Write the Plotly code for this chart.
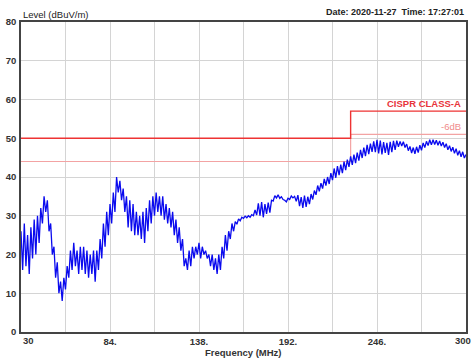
import plotly.graph_objects as go

# Frequency sampling grid (MHz), 1 MHz steps from 30 to 300
freq_mhz = list(range(30, 301))

level_dbuv = [
    26, 16, 28, 17, 25, 15, 27, 19, 29, 20,          # 30-39
    30, 23, 32, 28, 35, 31, 34, 26, 28, 20,          # 40-49
    22, 14, 18, 10, 13, 8, 14, 11, 17, 14,           # 50-59
    21, 16, 23, 17, 21, 15, 22, 16, 22, 15,          # 60-69
    21, 14, 20, 15, 21, 13, 21, 16, 24, 19,          # 70-79
    28, 22, 31, 25, 33, 28, 36, 31, 40, 36,          # 80-89
    39, 34, 37, 31, 35, 27, 34, 26, 33, 25,          # 90-99
    31, 25, 30, 24, 31, 23, 32, 26, 34, 28,          # 100-109
    35, 30, 36, 31, 35, 30, 35, 29, 33, 28,          # 110-119
    32, 27, 31, 25, 29, 23, 27, 21, 24, 17,          # 120-129
    19, 16, 21, 17, 22, 19, 22, 20, 23, 19,          # 130-139
    22, 20, 21, 19, 20, 17, 20, 16, 19, 15,          # 140-149
    20, 16, 22, 19, 25, 21, 26, 24, 28, 26,          # 150-159
    28.5, 27.8, 29.2, 28.7, 29.6, 29.3, 29.9, 29.5, 30.0, 29.6,   # 160-169
    30.3, 30.0, 31.5, 30.2, 33.2, 30.0, 33.5, 29.6, 33.0, 30.5,   # 170-179
    33.4, 30.8, 34.0, 33.8, 35.2, 34.6, 35.4, 34.5, 34.9, 34.2,   # 180-189
    34.0, 33.6, 34.5, 34.2, 35.1, 34.6, 35.0, 33.7, 35.3, 32.5,   # 190-199
    34.8, 32.0, 35.2, 32.3, 34.9, 33.0, 35.6, 34.2, 36.5, 35.4,   # 200-209
    37.8, 36.3, 38.4, 37.0, 39.5, 37.8, 40.0, 38.2, 41.0, 39.2,   # 210-219
    42.2, 39.8, 42.8, 40.5, 43.2, 41.0, 44.0, 41.8, 44.5, 42.6,   # 220-229
    45.3, 43.1, 45.8, 43.6, 46.3, 44.2, 47.0, 44.9, 47.6, 45.4,   # 230-239
    48.3, 45.9, 48.6, 46.5, 49.2, 46.4, 49.6, 46.1, 49.4, 45.8,   # 240-249
    49.0, 46.2, 48.8, 45.7, 49.1, 46.4, 49.3, 47.0, 49.4, 47.8,   # 250-259
    49.2, 48.0, 49.1, 47.6, 48.5, 46.8, 47.9, 46.2, 47.6, 46.0,   # 260-269
    47.8, 46.3, 48.2, 46.9, 48.8, 47.6, 49.2, 48.1, 49.6, 48.3,   # 270-279
    49.6, 48.4, 49.5, 48.2, 49.3, 48.0, 49.0, 47.6, 48.6, 47.0,   # 280-289
    48.1, 46.6, 47.7, 46.1, 47.3, 45.6, 46.8, 45.2, 46.5, 44.9,   # 290-299
    45.8,                                                         # 300
]

# CISPR Class-A limit and -6 dB margin line
limit_freq = [30, 230, 230, 300]
limit_class_a = [50, 50, 57, 57]
limit_minus6 = [44, 44, 51, 51]

x_tick_vals = [30, 57, 84, 111, 138, 165, 192, 219, 246, 273, 300]
x_tick_text = ["", "", "84.", "", "138.", "", "192.", "", "246.", "", ""]
x_end_labels = ["30", "300"]
y_tick_vals = [0, 10, 20, 30, 40, 50, 60, 70, 80]

FONT = "Liberation Sans"
TICKFONT = dict(family=FONT, size=9.5, color="#333333", weight="bold")

fig = go.Figure()
fig.add_trace(go.Scatter(x=limit_freq, y=limit_minus6, mode="lines",
                         line=dict(color="#f3a3a3", width=1.2), hoverinfo="skip"))
fig.add_trace(go.Scatter(x=limit_freq, y=limit_class_a, mode="lines",
                         line=dict(color="#ee3333", width=1.4), hoverinfo="skip"))
fig.add_trace(go.Scatter(x=freq_mhz, y=level_dbuv, mode="lines",
                         line=dict(color="#0a0aee", width=1.3)))

fig.update_layout(
    width=473, height=361,
    margin=dict(l=20.5, r=7, t=22, b=29),
    paper_bgcolor="white", plot_bgcolor="white",
    showlegend=False,
    font=dict(family=FONT, size=9.5, color="#333333"),
    xaxis=dict(range=[30, 300], tickvals=x_tick_vals, ticktext=x_tick_text,
               automargin=False,
               showgrid=True, gridcolor="#d4d4d4", gridwidth=1.3,
               showline=True, linecolor="#444444", linewidth=1.6, mirror=True,
               ticks="", zeroline=False, tickfont=TICKFONT),
    yaxis=dict(range=[0, 80], tickvals=y_tick_vals, automargin=False,
               showgrid=True, gridcolor="#d4d4d4", gridwidth=1.3,
               showline=True, linecolor="#444444", linewidth=1.6, mirror=True,
               ticks="", zeroline=False, ticklabelstandoff=1, tickfont=TICKFONT),
    annotations=[
        dict(text="Level (dBuV/m)", x=0, y=1, xref="paper", yref="paper",
             xanchor="left", yanchor="bottom", showarrow=False, xshift=0, yshift=0,
             font=dict(family=FONT, size=9.5, color="#222222")),
        dict(text="Date: 2020-11-27  Time: 17:27:01", x=1, y=1, xref="paper", yref="paper",
             xanchor="right", yanchor="bottom", showarrow=False, yshift=3,
             font=dict(family=FONT, size=9, color="#222222", weight="bold")),
        dict(text="Frequency (MHz)", x=0.5, y=0, xref="paper", yref="paper",
             xanchor="center", yanchor="top", showarrow=False, yshift=-13,
             font=dict(family=FONT, size=9.5, color="#333333", weight="bold")),
        dict(text=x_end_labels[0], x=0, y=0, xref="paper", yref="paper",
             xanchor="left", yanchor="top", showarrow=False, yshift=-1,
             font=TICKFONT),
        dict(text=x_end_labels[1], x=1, y=0, xref="paper", yref="paper",
             xanchor="right", yanchor="top", showarrow=False, yshift=-1, xshift=7,
             font=TICKFONT),
        dict(text="CISPR CLASS-A", x=298, y=57, xref="x", yref="y",
             xanchor="right", yanchor="bottom", showarrow=False, yshift=0,
             font=dict(family=FONT, size=9.5, color="#e8333a", weight="bold")),
        dict(text="-6dB", x=298, y=51, xref="x", yref="y",
             xanchor="right", yanchor="bottom", showarrow=False, yshift=0,
             font=dict(family=FONT, size=9.5, color="#f08a8a")),
    ],
)

fig.write_html("out.html", config={"displayModeBar": False},
               post_script="document.body.style.margin='0';document.body.style.overflow='hidden';")
